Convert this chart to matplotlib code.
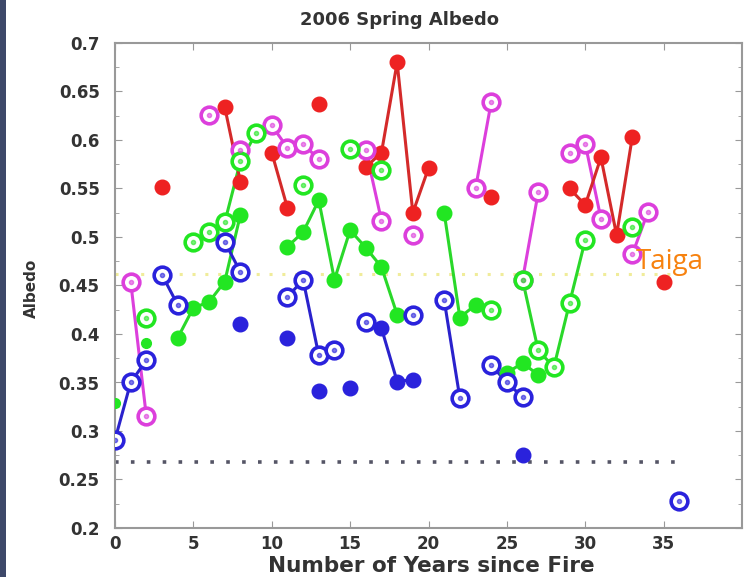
import matplotlib
matplotlib.use("Agg")
import matplotlib.pyplot as plt
from matplotlib.patches import Rectangle
import numpy as np

# ---------------- data ----------------
# style: 'f' filled dot, 'o' open circle, 's' small filled dot
years_red  = [3, 7, 8, 10, 11, 13, 16, 17, 18, 19, 20, 24, 29, 30, 31, 32, 33, 35]
albedo_red = [0.552, 0.634, 0.557, 0.587, 0.530, 0.637, 0.572, 0.587, 0.680, 0.525, 0.571,
              0.541, 0.550, 0.533, 0.582, 0.502, 0.603, 0.454]
track_red  = [0, 1, 1, 2, 2, 3, 4, 4, 4, 4, 4, 5, 6, 6, 6, 6, 6, 7]
style_red  = "ffffffffffffffffff"

years_mag  = [1, 2, 6, 8, 10, 11, 12, 13, 16, 17, 19, 23, 24, 26, 27, 29, 30, 31, 33, 34]
albedo_mag = [0.454, 0.315, 0.626, 0.590, 0.615, 0.592, 0.596, 0.580, 0.590, 0.517, 0.502,
              0.550, 0.639, 0.456, 0.546, 0.587, 0.596, 0.519, 0.482, 0.526]
track_mag  = [0, 0, 1, 2, 3, 3, 3, 3, 4, 4, 5, 6, 6, 7, 7, 8, 8, 8, 9, 9]
style_mag  = "oooooooooooooooooooo"

years_grn  = [0, 2, 2, 4, 5, 6, 7, 8, 5, 6, 7, 8, 9,
              11, 12, 13, 14, 15, 16, 17, 18, 12, 15, 17,
              21, 22, 23, 24, 26, 27, 28, 29, 30, 25, 26, 27, 33]
albedo_grn = [0.329, 0.391, 0.417, 0.396, 0.427, 0.433, 0.454, 0.523, 0.495, 0.505, 0.515, 0.578, 0.607,
              0.490, 0.505, 0.538, 0.456, 0.507, 0.489, 0.469, 0.420, 0.554, 0.591, 0.569,
              0.525, 0.417, 0.430, 0.425, 0.456, 0.383, 0.366, 0.432, 0.497, 0.360, 0.370, 0.358, 0.510]
track_grn  = [0, 1, 2, 3, 3, 3, 3, 3, 4, 4, 4, 4, 4,
              5, 5, 5, 5, 5, 5, 5, 5, 6, 7, 8,
              9, 9, 9, 9, 10, 10, 10, 10, 10, 11, 11, 11, 12]
style_grn  = "sso" + "fffff" + "ooooo" + "ffffffff" + "ooo" + "fffo" + "ooooo" + "fff" + "o"

years_blu  = [0, 1, 2, 3, 4, 7, 8, 8, 11, 11, 12, 13, 14, 13, 15, 16, 17, 18, 19, 19,
              21, 22, 24, 25, 26, 26, 36]
albedo_blu = [0.291, 0.350, 0.373, 0.461, 0.430, 0.495, 0.464, 0.410, 0.396, 0.438, 0.456, 0.378,
              0.383, 0.341, 0.344, 0.412, 0.406, 0.351, 0.353, 0.420, 0.435, 0.334, 0.368, 0.350,
              0.335, 0.275, 0.228]
track_blu  = [0, 0, 0, 1, 1, 2, 2, 3, 4, 5, 5, 5, 5, 6, 7, 8, 8, 8, 8, 9,
              10, 10, 11, 11, 11, 12, 13]
style_blu  = "ooo" + "oo" + "oo" + "f" + "f" + "oooo" + "f" + "f" + "offf" + "o" + "oo" + "ooo" + "f" + "o"

taiga_level = 0.462
burn_level = 0.268
ref_years = [0, 36]

title_text = "2006 Spring Albedo"
xlabel_text = "Number of Years since Fire"
ylabel_text = "Albedo"
xtick_vals = [0, 5, 10, 15, 20, 25, 30, 35]
ytick_vals = [0.2, 0.25, 0.3, 0.35, 0.4, 0.45, 0.5, 0.55, 0.6, 0.65, 0.7]
ytick_labels = ["0.2", "0.25", "0.3", "0.35", "0.4", "0.45", "0.5", "0.55", "0.6", "0.65", "0.7"]

# ---------------- figure ----------------
plt.rcParams['font.family'] = ['DejaVu Sans']
W, H = 744, 577
fig = plt.figure(figsize=(W / 100, H / 100), dpi=100)
fig.patch.set_facecolor("white")
fig.patches.append(Rectangle((0, 0), 6 / W, 1, transform=fig.transFigure,
                             facecolor="#3d4869", edgecolor="none", zorder=0))

ax = fig.add_axes([115 / W, 49 / H, 627 / W, 485 / H])

# reference lines
ax.plot(ref_years, [taiga_level] * 2, color="#f0ec9a", lw=2.2, ls=(0, (1, 3.2)), zorder=1)
ax.plot(ref_years, [burn_level] * 2, color="#555566", lw=2.6, ls=(0, (1, 3.4)), zorder=1)


def draw(years, vals, tracks, styles, color, lcolor):
    years = np.asarray(years, float)
    vals = np.asarray(vals, float)
    tracks = np.asarray(tracks)
    styles = np.array(list(styles))
    for t in np.unique(tracks):
        m = tracks == t
        if m.sum() > 1:
            ax.plot(years[m], vals[m], "-", color=lcolor, lw=2.2, zorder=2)
    for st in ["f", "s", "o"]:
        m = styles == st
        if not m.any():
            continue
        if st == "f":
            ax.plot(years[m], vals[m], "o", ls="none", color=color, ms=10.5,
                    mec=color, zorder=3)
        elif st == "s":
            ax.plot(years[m], vals[m], "o", ls="none", color=color, ms=7,
                    mec=color, zorder=3)
        else:
            ax.plot(years[m], vals[m], "o", ls="none", mfc="white", mec=color,
                    mew=2.6, ms=12, zorder=4)
            ax.plot(years[m], vals[m], "o", ls="none", color=color, ms=3,
                    alpha=0.6, zorder=5)


draw(years_mag, albedo_mag, track_mag, style_mag, "#dc3fdc", "#dc3fdc")
draw(years_grn, albedo_grn, track_grn, style_grn, "#22e622", "#2ad82a")
draw(years_blu, albedo_blu, track_blu, style_blu, "#2a22dc", "#2a22cc")
draw(years_red, albedo_red, track_red, style_red, "#ee2222", "#d42a2a")

ax.text(33.25, 0.474, "Taiga", color="#f7820f", fontsize=20, family="Open Sans",
        ha="left", va="center", zorder=6)

ax.set_xlim(0, 40)
ax.set_ylim(0.2, 0.7)
ax.set_xticks(xtick_vals)
ax.set_xticklabels([str(v) for v in xtick_vals])
ax.set_yticks(ytick_vals)
ax.set_yticklabels(ytick_labels)
ax.set_yticks(np.arange(0.225, 0.7, 0.05), minor=True)
ax.tick_params(axis="both", which="both", direction="in", top=True, right=True,
               color="#999999")
ax.tick_params(axis="both", which="major", length=5, labelsize=12)
ax.tick_params(axis="y", which="major", pad=11)
ax.tick_params(axis="x", which="major", pad=5)
ax.tick_params(axis="y", which="minor", length=3)
for lab in ax.get_xticklabels() + ax.get_yticklabels():
    lab.set_fontweight("bold")
    lab.set_color("#333333")
for sp in ax.spines.values():
    sp.set_color("#999999")
    sp.set_linewidth(1.5)

fig.text(399 / W, 1 - 20 / H, title_text, fontsize=13, fontweight="bold",
         color="#333333", ha="center", va="center")
fig.text(431 / W, 1 - 572 / H, xlabel_text, fontsize=15.5, fontweight="bold",
         color="#333333", ha="center", va="baseline")
fig.text(31 / W, 1 - 288 / H, ylabel_text, fontsize=11, fontweight="bold",
         color="#333333", ha="center", va="center", rotation=90)

fig.savefig("out.png", dpi=100, facecolor="white")
